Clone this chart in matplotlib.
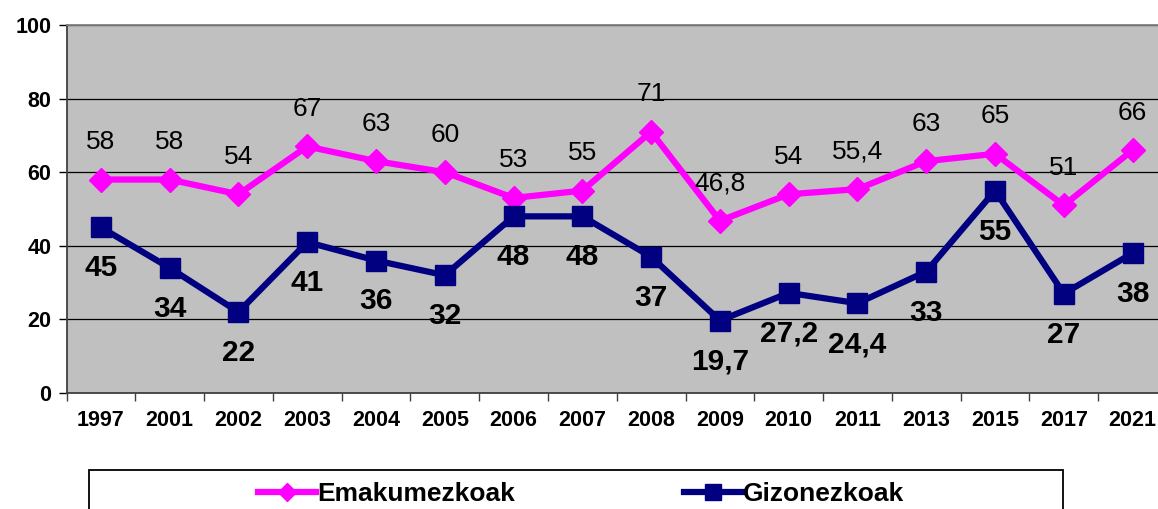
import matplotlib
matplotlib.use('Agg')
import matplotlib.pyplot as plt
import numpy as np
from matplotlib.patches import Rectangle

plt.rcParams['font.family'] = ['Liberation Sans', 'DejaVu Sans']

years = ['1997', '2001', '2002', '2003', '2004', '2005', '2006', '2007',
         '2008', '2009', '2010', '2011', '2013', '2015', '2017', '2021']
emakumezkoak = [58, 58, 54, 67, 63, 60, 53, 55, 71, 46.8, 54, 55.4, 63, 65, 51, 66]
gizonezkoak = [45, 34, 22, 41, 36, 32, 48, 48, 37, 19.7, 27.2, 24.4, 33, 55, 27, 38]

pink = '#FF00FF'
navy = '#000080'


def fmt(v):
    # comma decimal separator
    return ('%g' % v).replace('.', ',')


fig = plt.figure(figsize=(11.58, 5.09), dpi=100)
ax = fig.add_axes([66.5 / 1158, 1 - 393 / 509, 1100.5 / 1158, 368 / 509])
ax.set_facecolor('#C0C0C0')

x = np.arange(len(years))
ax.plot(x, emakumezkoak, color=pink, lw=4.5, marker='D', ms=12,
        label='Emakumezkoak', zorder=3)
ax.plot(x, gizonezkoak, color=navy, lw=4.5, marker='s', ms=15,
        label='Gizonezkoak', zorder=3)

for xi, v in zip(x, emakumezkoak):
    ax.annotate(fmt(v), (xi, v), xytext=(0, 27), textcoords='offset points',
                ha='center', va='center', fontsize=19, color='black')
for xi, v in zip(x, gizonezkoak):
    ax.annotate(fmt(v), (xi, v), xytext=(0, -29.5), textcoords='offset points',
                ha='center', va='center', fontsize=21.5, fontweight='bold',
                color='black')

ax.set_xlim(-0.5, len(years) - 0.5)
ax.set_ylim(0, 100)
ax.set_yticks([0, 20, 40, 60, 80, 100])
ax.set_xticks(x)
ax.set_xticklabels(years)
ax.set_xticks(np.arange(len(years) + 1) - 0.5, minor=True)
ax.tick_params(axis='x', which='major', length=0, pad=12, labelsize=15.5)
ax.tick_params(axis='x', which='minor', length=6, width=1, color='#404040')
ax.tick_params(axis='y', length=6, width=1, pad=5, labelsize=15.5)
for lab in ax.get_xticklabels() + ax.get_yticklabels():
    lab.set_fontweight('bold')

ax.grid(axis='y', color='black', lw=0.9)
ax.set_axisbelow(True)
for side in ['left', 'bottom']:
    ax.spines[side].set_color('#404040')
    ax.spines[side].set_linewidth(1.3)
ax.spines['top'].set_color('#808080')
ax.spines['top'].set_linewidth(1.3)
ax.spines['right'].set_visible(False)

# legend box, cut off at the bottom edge of the figure
fig.patches.append(Rectangle((89 / 1158, -0.1), 974 / 1158, 0.1 + 1 - 470 / 509,
                             transform=fig.transFigure, fill=False,
                             edgecolor='black', lw=1.3))
leg = fig.legend(loc='center', bbox_to_anchor=(581 / 1158, 1 - 494 / 509),
                 ncol=2, frameon=False, prop={'size': 19, 'weight': 'bold'},
                 handlelength=2.2, handletextpad=0.05, columnspacing=6.4,
                 markerscale=0.75)

fig.savefig('out.png', dpi=100)
